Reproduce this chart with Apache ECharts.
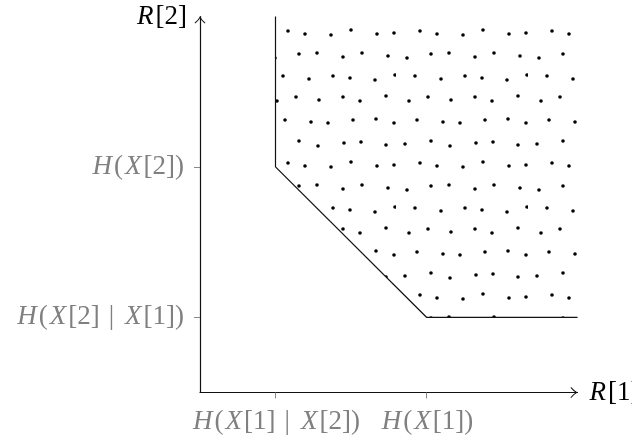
<!DOCTYPE html>
<html>
<head>
<meta charset="utf-8">
<script src="https://cdn.jsdelivr.net/npm/echarts@6/dist/echarts.min.js"></script>
<style>
	html, body { margin: 0; padding: 0; background: #fff; }
	#chart { width: 632px; height: 440px; }
</style>
</head>
<body>
<div id="chart"></div>
<script>
// rate region boundary (corner points, top of plot -> right of plot)
var boundaryX = [1, 1, 3, 5];
var boundaryY = [5, 3, 1, 1];

var xTickValues = [1, 3];
var xTickLabels = ['H(X[1] | X[2])', 'H(X[1])'];
var yTickValues = [1, 3];
var yTickLabels = ['H(X[2] | X[1])', 'H(X[2])'];

var xName = 'R[1]';
var yName = 'R[2]';

var FONT = '"Liberation Serif", "DejaVu Serif", serif';

// capital letters are math italic, the bar gets some room
function mathText(s) {
	return s.replace(/([A-Z])/g, '{i|$1}').replace(' | ', '{b||}');
}

var richStyle = {
	i: { fontStyle: 'italic', fontFamily: FONT, fontSize: 27, padding: [0, 2, 0, 2] },
	b: { fontFamily: FONT, fontSize: 27, padding: [0, 9, 0, 9] }
};

// dotted fill texture (jittered lattice, 22px spacing)
var tile = document.createElement('canvas');
tile.width = 132;
tile.height = 132;
(function () {
	var ctx = tile.getContext('2d');
	var jitter = [
		[[-2, 1], [2, -2], [-1, 3], [3, 0], [-2, -1], [1, 2]],
		[[2, -2], [-3, 1], [1, 2], [-1, -3], [3, 1], [-2, 0]],
		[[0, 3], [2, -1], [-2, -2], [2, 2], [-1, -2], [3, 1]],
		[[-3, -1], [1, 2], [3, -1], [-2, 1], [1, 3], [-1, -2]],
		[[2, 2], [-1, -2], [0, 1], [2, -2], [-3, 2], [1, -3]],
		[[-1, -1], [3, 1], [-2, 2], [1, -1], [2, -2], [-2, 2]]
	];
	ctx.fillStyle = '#000';
	for (var r = 0; r < 6; r++) {
		for (var c = 0; c < 6; c++) {
			var x = (11 + 22 * c + (r % 2) * 11 + jitter[r][c][0] + 132) % 132;
			var y = 11 + 22 * r + jitter[r][c][1];
			ctx.beginPath();
			ctx.arc(x, y, 1.8, 0, Math.PI * 2);
			ctx.fill();
		}
	}
})();

var arrow = 'path://M0,7 Q4,3.5 6,0 Q8,3.5 12,7 L11.3,7.7 Q7.6,4.6 6,2 Q4.4,4.6 0.7,7.7 Z';

function labelFor(values, labels) {
	return function (v) {
		var i = values.indexOf(v);
		return i < 0 ? '' : mathText(labels[i]);
	};
}

var chart = echarts.init(document.getElementById('chart'), null, { renderer: 'canvas' });

chart.setOption({
	animation: false,
	backgroundColor: '#fff',
	grid: {
		left: 200,
		right: 54.5,
		top: 16.5,
		bottom: 47.5,
		containLabel: false,
		outerBoundsMode: 'none'
	},
	xAxis: {
		type: 'value',
		min: 0,
		max: 5,
		interval: 1,
		name: mathText(xName),
		nameLocation: 'end',
		nameGap: 10,
		nameTextStyle: {
			color: '#000',
			fontFamily: FONT,
			fontSize: 27,
			align: 'left',
			verticalAlign: 'middle',
			rich: richStyle
		},
		splitLine: { show: false },
		axisLine: {
			onZero: false,
			symbol: ['none', arrow],
			symbolSize: [12, 7],
			symbolOffset: [0, -3.5],
			lineStyle: { color: '#111', width: 1.2 }
		},
		axisTick: {
			customValues: xTickValues,
			length: 6,
			lineStyle: { color: '#888', width: 1 }
		},
		axisLabel: {
			customValues: xTickValues,
			formatter: labelFor(xTickValues, xTickLabels),
			color: '#808080',
			fontFamily: FONT,
			fontSize: 27,
			margin: 16,
			rich: richStyle
		}
	},
	yAxis: {
		type: 'value',
		min: 0,
		max: 5,
		interval: 1,
		name: mathText(yName),
		nameLocation: 'end',
		nameGap: 0,
		nameTextStyle: {
			color: '#000',
			fontFamily: FONT,
			fontSize: 27,
			align: 'right',
			verticalAlign: 'middle',
			padding: [0, 13, 0, 0],
			rich: richStyle
		},
		splitLine: { show: false },
		axisLine: {
			show: true,
			onZero: false,
			symbol: ['none', arrow],
			symbolSize: [12, 7],
			symbolOffset: [0, -3.5],
			lineStyle: { color: '#111', width: 1.2 }
		},
		axisTick: {
			show: true,
			customValues: yTickValues,
			length: 6,
			lineStyle: { color: '#888', width: 1 }
		},
		axisLabel: {
			customValues: yTickValues,
			formatter: labelFor(yTickValues, yTickLabels),
			color: '#808080',
			fontFamily: FONT,
			fontSize: 27,
			margin: 16,
			rich: richStyle
		}
	},
	series: [
		{
			type: 'line',
			data: boundaryX.map(function (x, i) { return [x, boundaryY[i]]; }),
			symbol: 'none',
			lineStyle: { color: '#111', width: 1.2 },
			areaStyle: {
				origin: 'end',
				color: { image: tile, repeat: 'repeat' },
				opacity: 1
			},
			silent: true
		}
	]
});
</script>
</body>
</html>
